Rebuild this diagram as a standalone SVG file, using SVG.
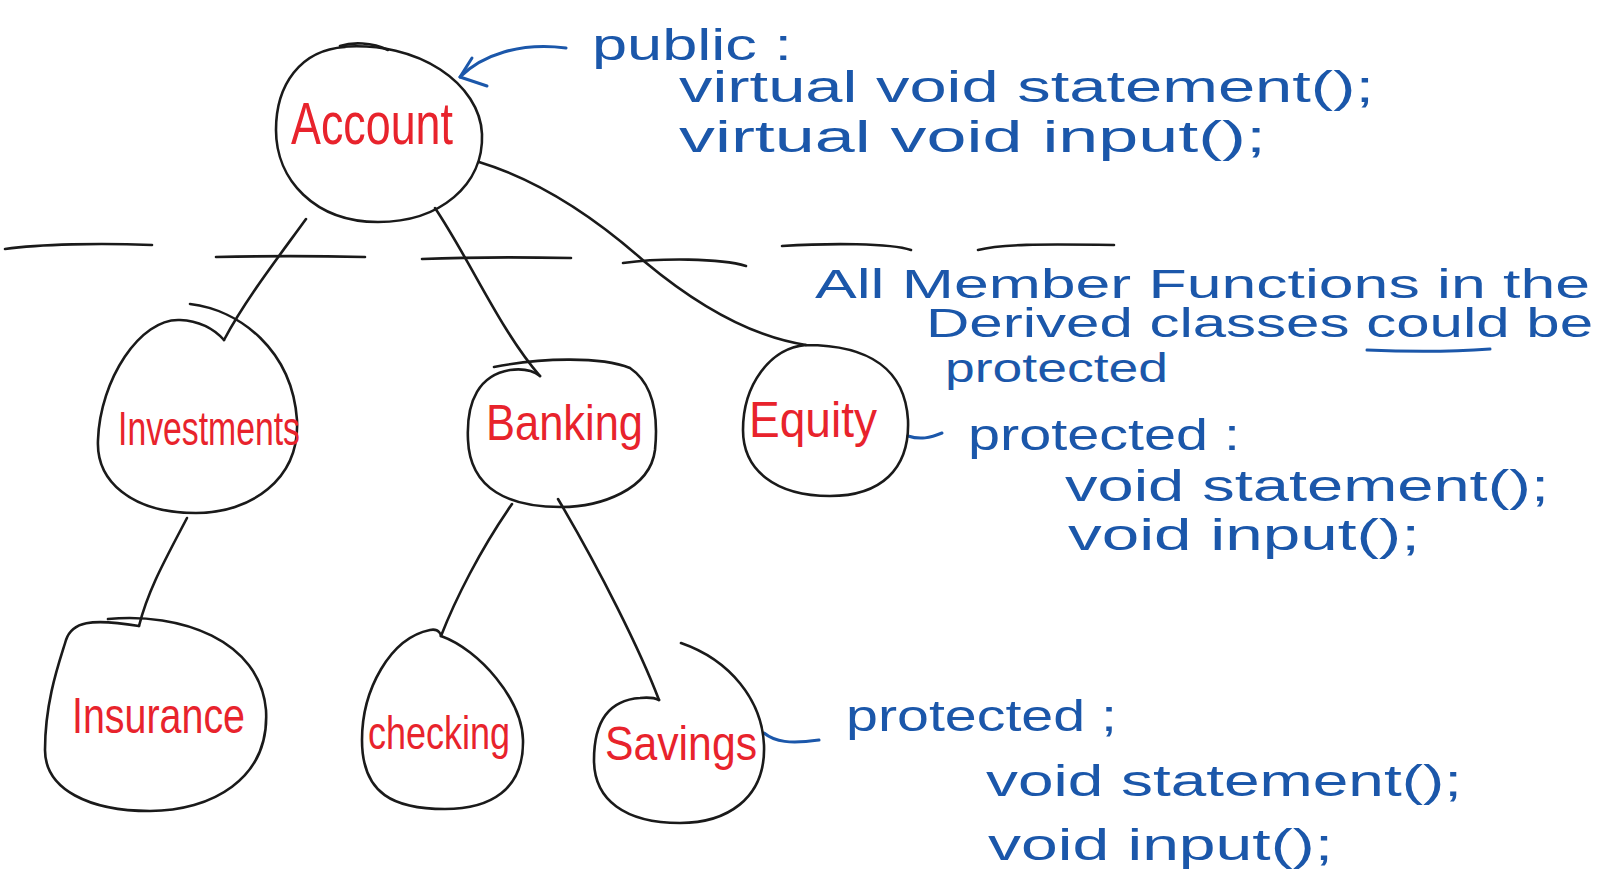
<svg xmlns="http://www.w3.org/2000/svg" width="1614" height="881" viewBox="0 0 1614 881">
  <style>
    .ink { fill: none; stroke: #1a1a1a; stroke-width: 2.6; stroke-linecap: round; stroke-linejoin: round; }
    .blue-ink { fill: none; stroke: #1b57aa; stroke-width: 3; stroke-linecap: round; stroke-linejoin: round; }
    .name { font-family: "Liberation Sans", "DejaVu Sans", sans-serif; fill: #e8232c; }
    .note { font-family: "Liberation Sans", "DejaVu Sans", sans-serif; fill: #1b57aa; font-size: 44px; }
    .note-sm { font-size: 40px; }
  </style>
  <rect width="1614" height="881" fill="#ffffff"/>

  <!-- dashed separator drawn by hand -->
  <g id="separator">
    <path class="ink" d="M 5,249 C 40,244 100,243 152,245"/>
    <path class="ink" d="M 216,257 C 260,256 320,256 365,257"/>
    <path class="ink" d="M 422,259 C 470,257 520,257 571,258"/>
    <path class="ink" d="M 623,263 C 660,258 720,258 746,266"/>
    <path class="ink" d="M 782,246 C 830,243 890,243 911,250"/>
    <path class="ink" d="M 978,250 C 1000,244 1040,244 1114,245"/>
  </g>

  <!-- inheritance links -->
  <g id="connectors">
    <path class="ink" d="M 306,219 C 280,255 245,300 224,340"/>
    <path class="ink" d="M 435,208 C 470,260 500,330 540,376"/>
    <path class="ink" d="M 479,162 C 545,182 600,222 645,262 C 705,312 760,338 806,345"/>
    <path class="ink" d="M 187,518 C 165,560 148,590 139,626"/>
    <path class="ink" d="M 512,504 C 480,550 455,600 441,636"/>
    <path class="ink" d="M 558,499 C 600,570 640,650 659,700"/>
    <!-- annotation pointers -->
    <path class="blue-ink" d="M 566,48 C 520,42 482,55 460,77"/>
    <path class="blue-ink" d="M 472,58 L 460,77 L 487,86"/>
    <path class="blue-ink" d="M 908,436 C 920,440 930,438 942,433"/>
    <path class="blue-ink" d="M 764,733 C 775,742 790,744 819,740"/>
  </g>

  <g id="node-account">
    <path class="ink" d="M 340,47 C 420,40 480,85 482,134 C 484,185 440,222 378,222 C 315,222 276,180 276,130 C 276,85 300,50 345,47"/>
    <path class="ink" d="M 340,46 C 352,42 372,42 388,50"/>
    <text class="name" x="291" y="144" font-size="60" textLength="162" lengthAdjust="spacingAndGlyphs">Account</text>
  </g>

  <g id="node-investments">
    <path class="ink" d="M 190,304 C 240,310 292,350 297,420 C 300,480 250,513 196,513 C 130,513 96,480 98,440 C 100,380 140,318 180,320 C 200,321 215,330 224,340"/>
    <text class="name" x="118" y="445" font-size="48" textLength="182" lengthAdjust="spacingAndGlyphs">Investments</text>
  </g>

  <g id="node-banking">
    <path class="ink" d="M 494,367 C 540,358 600,356 630,368 C 655,385 658,420 655,450 C 650,490 600,507 561,507 C 510,507 470,490 468,440 C 466,400 480,375 510,370 C 525,368 535,372 540,376"/>
    <text class="name" x="486" y="440" font-size="50" textLength="157" lengthAdjust="spacingAndGlyphs">Banking</text>
  </g>

  <g id="node-equity">
    <path class="ink" d="M 806,345 C 870,345 905,370 908,420 C 910,470 880,496 830,496 C 775,496 743,470 743,430 C 743,385 770,348 806,345"/>
    <text class="name" x="749" y="437" font-size="50" textLength="128" lengthAdjust="spacingAndGlyphs">Equity</text>
  </g>

  <g id="node-insurance">
    <path class="ink" d="M 108,619 C 180,612 260,640 266,710 C 270,780 210,811 150,811 C 90,811 45,790 45,750 C 45,700 60,660 66,640 C 72,622 90,618 139,626"/>
    <text class="name" x="72" y="733" font-size="50" textLength="173" lengthAdjust="spacingAndGlyphs">Insurance</text>
  </g>

  <g id="node-checking">
    <path class="ink" d="M 441,636 C 480,650 522,700 523,740 C 524,790 490,809 445,809 C 395,809 362,795 362,740 C 362,690 390,638 430,630 C 440,628 441,636 441,636"/>
    <text class="name" x="368" y="749" font-size="46" textLength="142" lengthAdjust="spacingAndGlyphs">checking</text>
  </g>

  <g id="node-savings">
    <path class="ink" d="M 681,643 C 730,660 762,700 764,745 C 766,800 725,823 680,823 C 625,823 594,800 594,760 C 594,720 610,700 640,698 C 650,697 655,698 659,700"/>
    <text class="name" x="605" y="760" font-size="48" textLength="152" lengthAdjust="spacingAndGlyphs">Savings</text>
  </g>

  <!-- access notes -->
  <g id="note-public">
    <text class="note" x="592" y="60" textLength="200" lengthAdjust="spacingAndGlyphs">public :</text>
    <text class="note" x="679" y="102" textLength="695" lengthAdjust="spacingAndGlyphs">virtual void statement();</text>
    <text class="note" x="679" y="152" textLength="587" lengthAdjust="spacingAndGlyphs">virtual void input();</text>
  </g>

  <g id="note-derived">
    <text class="note note-sm" x="815" y="298" textLength="775" lengthAdjust="spacingAndGlyphs">All Member Functions in the</text>
    <text class="note note-sm" x="926" y="337" textLength="667" lengthAdjust="spacingAndGlyphs">Derived classes could be</text>
    <path class="blue-ink" d="M 1367,350 C 1410,352 1450,352 1490,349"/>
    <text class="note note-sm" x="945" y="382" textLength="223" lengthAdjust="spacingAndGlyphs">protected</text>
  </g>

  <g id="note-equity">
    <text class="note" x="968" y="450" textLength="272" lengthAdjust="spacingAndGlyphs">protected :</text>
    <text class="note" x="1065" y="501" textLength="484" lengthAdjust="spacingAndGlyphs">void statement();</text>
    <text class="note" x="1068" y="550" textLength="352" lengthAdjust="spacingAndGlyphs">void input();</text>
  </g>

  <g id="note-savings">
    <text class="note" x="846" y="731" textLength="271" lengthAdjust="spacingAndGlyphs">protected ;</text>
    <text class="note" x="986" y="796" textLength="476" lengthAdjust="spacingAndGlyphs">void statement();</text>
    <text class="note" x="988" y="860" textLength="345" lengthAdjust="spacingAndGlyphs">void input();</text>
  </g>
</svg>
